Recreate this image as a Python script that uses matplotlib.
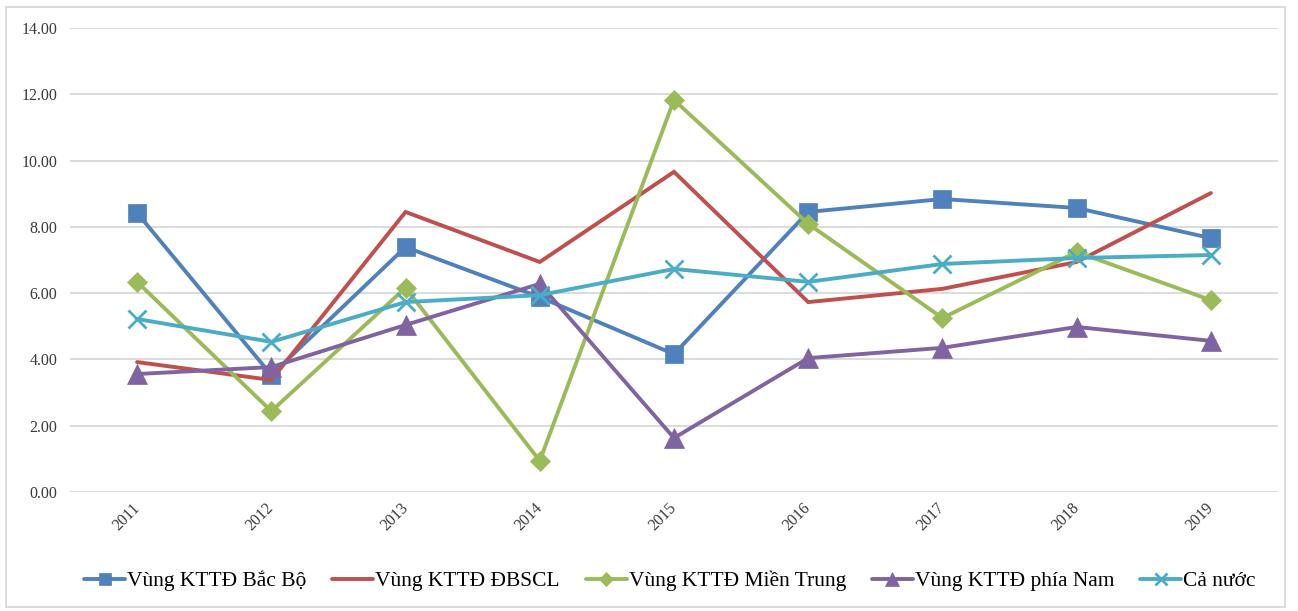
import matplotlib
matplotlib.use("Agg")
import matplotlib.pyplot as plt
from matplotlib.patches import Rectangle

plt.rcParams['font.family'] = ['Liberation Serif', 'DejaVu Serif']

years = ["2011", "2012", "2013", "2014", "2015", "2016", "2017", "2018", "2019"]
bac_bo = [8.42, 3.53, 7.39, 5.88, 4.16, 8.45, 8.84, 8.57, 7.66]
dbscl = [3.92, 3.38, 8.45, 6.94, 9.66, 5.73, 6.13, 6.94, 9.02]
mien_trung = [6.34, 2.44, 6.16, 0.94, 11.83, 8.09, 5.25, 7.24, 5.79]
phia_nam = [3.56, 3.77, 5.04, 6.28, 1.63, 4.04, 4.35, 4.98, 4.56]
ca_nuoc = [5.22, 4.53, 5.73, 5.94, 6.73, 6.34, 6.88, 7.06, 7.15]

labels = ["Vùng KTTĐ Bắc Bộ", "Vùng KTTĐ ĐBSCL", "Vùng KTTĐ Miền Trung",
          "Vùng KTTĐ phía Nam", "Cả nước"]
colors = ["#4F81BD", "#C0504D", "#9BBB59", "#8064A2", "#4BACC6"]
markers = ["s", None, "D", "^", "x"]
msizes = [13, 0, 10.5, 14, 13]

W, H = 1298, 611
fig = plt.figure(figsize=(W / 100, H / 100), dpi=100)
ax = fig.add_axes([70 / W, 1 - 492 / H, (1278 - 70) / W, (492 - 28) / H])

x = list(range(len(years)))
series = [bac_bo, dbscl, mien_trung, phia_nam, ca_nuoc]
for vals, lab, c, m, ms in zip(series, labels, colors, markers, msizes):
    kw = dict(color=c, lw=2.8, label=lab, solid_capstyle='round', solid_joinstyle='miter')
    if m:
        kw.update(marker=m, markersize=ms, markerfacecolor=c, markeredgecolor=c,
                  markeredgewidth=2.0 if m == "x" else 0.5)
    ax.plot(x, vals, **kw)

ax.set_xlim(-0.5, len(years) - 0.5)
ax.set_ylim(0, 14)
ax.set_yticks(range(0, 15, 2))
ax.set_yticklabels([f"{v:.2f}" for v in range(0, 15, 2)], fontsize=11.5, color="#3A3A3A")
ax.set_xticks(x)
ax.set_xticklabels(years, fontsize=11.5, color="#3A3A3A", rotation=45,
                   ha='right', va='center', rotation_mode='anchor')
ax.tick_params(axis='x', length=0, pad=10)
ax.tick_params(axis='y', length=0, pad=9)
ax.grid(axis='y', color="#D9D9D9", lw=1.3)
ax.set_axisbelow(True)
for s in ax.spines.values():
    s.set_visible(False)

fig.legend(loc='center', bbox_to_anchor=(670 / W, 1 - 581 / H), ncol=5, frameon=False,
           fontsize=15.5, handlelength=1.9, handletextpad=0.1, columnspacing=1.2,
           markerscale=0.7, labelcolor="#000000")

fig.patches.append(Rectangle((6 / W, 1 - 607 / H), (1285 - 6) / W, (607 - 7) / H,
                             transform=fig.transFigure, fill=False,
                             edgecolor="#D9D9D9", lw=1.3))

fig.savefig("out.png", dpi=100)
